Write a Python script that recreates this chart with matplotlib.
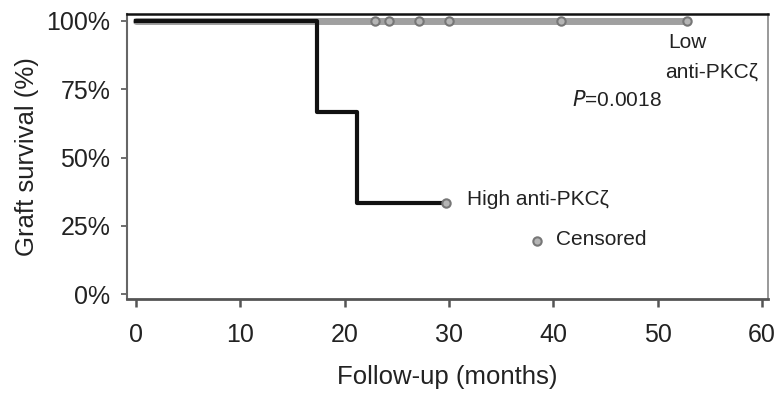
import matplotlib.pyplot as plt

plt.rcParams['font.family'] = ['Liberation Sans', 'DejaVu Sans']

# Kaplan-Meier steps (months, survival %)
high_t = [0, 17.3, 17.3, 21.2, 21.2, 29.7]
high_s = [100, 100, 66.7, 66.7, 33.3, 33.3]
high_cens_t = [29.7]
high_cens_s = [33.3]

low_t = [0, 52.8]
low_s = [100, 100]
low_cens_t = [22.9, 24.2, 27.1, 30.0, 40.7, 52.8]
low_cens_s = [100, 100, 100, 100, 100, 100]

xticks = [0, 10, 20, 30, 40, 50, 60]
yticks = [0, 25, 50, 75, 100]
ylabels = ['0%', '25%', '50%', '75%', '100%']

fig = plt.figure(figsize=(7.81, 3.97), dpi=100)
ax = fig.add_axes([0.1626, 0.2468, 0.8208, 0.7179])

ax.plot(low_t, low_s, color='#a0a0a0', lw=5, solid_capstyle='round', zorder=2)
ax.plot(low_cens_t, low_cens_s, 'o', ms=6, mfc='#b5b5b5', mec='#777777', mew=1.5, zorder=3)
ax.plot(high_t, high_s, color='#111111', lw=3, zorder=4)
ax.plot(high_cens_t, high_cens_s, 'o', ms=6, mfc='#b5b5b5', mec='#777777', mew=1.5, zorder=5)

# legend marker for censored
ax.plot([38.4], [19.3], 'o', ms=6, mfc='#b5b5b5', mec='#777777', mew=1.5)
ax.text(40.3, 20, 'Censored', fontsize=15, va='center', ha='left', color='#222222')

ax.text(31.7, 34.7, 'High anti-PKC\u03b6', fontsize=15, va='center', ha='left', color='#222222')
ax.text(51.0, 92, 'Low', fontsize=15, va='center', ha='left', color='#222222')
ax.text(50.7, 81.4, 'anti-PKC\u03b6', fontsize=15, va='center', ha='left', color='#222222')
ax.text(41.8, 71, '$P$=0.0018', fontsize=15, va='center', ha='left', color='#222222')

ax.set_xlim(-0.87, 60.58)
ax.set_ylim(-1.82, 102.55)
ax.set_xticks(xticks)
ax.set_yticks(yticks)
ax.set_yticklabels(ylabels)
ax.tick_params(axis='both', labelsize=18, colors='#222222')
ax.tick_params(axis='x', length=6, width=1.8, color='#555555', pad=11)
ax.tick_params(axis='y', length=4, width=1.2, color='#555555', pad=8)

ax.set_xlabel('Follow-up (months)', fontsize=18.5, color='#222222', labelpad=13)
ax.set_ylabel('Graft survival (%)', fontsize=18.5, color='#222222', labelpad=5)

ax.spines['top'].set_color('#111111')
ax.spines['top'].set_linewidth(1.8)
ax.spines['left'].set_color('#666666')
ax.spines['left'].set_linewidth(1.5)
ax.spines['bottom'].set_color('#555555')
ax.spines['bottom'].set_linewidth(2)
ax.spines['right'].set_color('#888888')
ax.spines['right'].set_linewidth(1.2)

fig.savefig('out.png', dpi=100)
